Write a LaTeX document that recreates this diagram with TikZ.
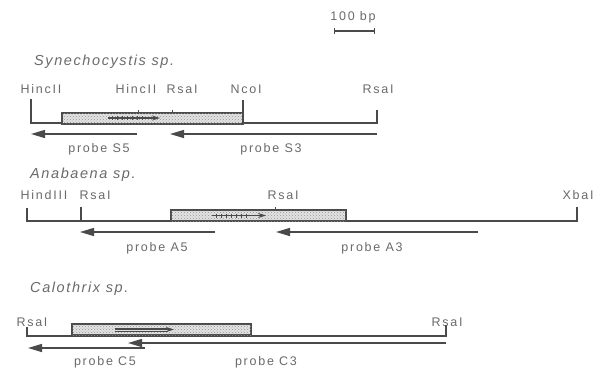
\documentclass[tikz,border=0pt]{standalone}
\usepackage{fontspec}
\setmainfont{Liberation Sans}
\newfontfamily\labfont[LetterSpace=14]{Liberation Sans}
\newfontfamily\titfont[LetterSpace=11]{Liberation Sans Italic}
\usetikzlibrary{arrows.meta,patterns}
\definecolor{ink}{HTML}{4A4A4A}
\definecolor{txt}{HTML}{6A6A6A}
\begin{document}
\begin{tikzpicture}[x=1pt,y=-1pt,
  lab/.style={inner sep=0pt,text=txt,font=\labfont\fontsize{12.5}{14}\selectfont},
  tit/.style={inner sep=0pt,anchor=west,text=txt,font=\titfont\fontsize{14.5}{16}\selectfont},
  dna/.style={draw=ink,line width=1.8pt},
  site/.style={draw=ink,line width=1.2pt},
  probe/.style={draw=ink,line width=1.4pt,-{Triangle[length=14pt,width=8pt]}},
  genebox/.style={draw=ink,line width=1.3pt,fill=gray!22,postaction={pattern=crosshatch dots,pattern color=gray!85}},
  gene/.style={draw=ink,line width=1.1pt,-{Stealth[length=8pt,width=5pt]}}]
\useasboundingbox (0,0) rectangle (602,370);

% scale bar
\node[lab] (bp) at (353,17) {100 bp};
\coordinate (sb1) at (334,31); \coordinate (sb2) at (374,31);
\draw[ink,line width=1.2pt] (sb1) -- (sb2);
\draw[ink,line width=1pt] ([yshift=-3]sb1) -- ([yshift=3]sb1) ([yshift=-3]sb2) -- ([yshift=3]sb2);

% ---------------- Synechocystis
\node[tit] (t1) at (34,62) {Synechocystis sp.};
\node[lab] (s1) at (41,89) {HincII};
\node[lab] (s2) at (136,89) {HincII};
\node[lab] (s3) at (182,89) {RsaI};
\node[lab] (s4) at (246,89) {NcoI};
\node[lab] (s5) at (378,89) {RsaI};
\coordinate (a0) at (31,99); \coordinate (a1) at (31,123);
\coordinate (a2) at (377,123); \coordinate (a3) at (377,110);
\draw[dna] (a0) -- (a1) -- (a2) -- (a3);
\draw[genebox] (62,113) rectangle (243,124);
\coordinate (an0) at (243,100); \coordinate (an1) at (243,123);
\draw[site] (an0) -- (an1);
\draw[ink,line width=0.7pt] (138,113) -- (138,110) (172,113) -- (172,110);
\coordinate (g1a) at (108,118); \coordinate (g1b) at (160,118);
\draw[gene] (g1a) -- (g1b);
\foreach \x in {112,117,...,142} \draw[ink,line width=0.6pt] (\x,116) -- (\x,120);
\coordinate (p1a) at (137,134); \coordinate (p1b) at (31,134);
\draw[probe] (p1a) -- (p1b);
\coordinate (p2a) at (377,134); \coordinate (p2b) at (170,134);
\draw[probe] (p2a) -- (p2b);
\node[lab] (ls5) at (99,149) {probe S5};
\node[lab] (ls3) at (271,149) {probe S3};

% ---------------- Anabaena
\node[tit] (t2) at (30,175) {Anabaena sp.};
\node[lab] (b1) at (44,195) {HindIII};
\node[lab] (b2) at (95,195) {RsaI};
\node[lab] (b3) at (283,195) {RsaI};
\node[lab] (b4) at (578,195) {XbaI};
\coordinate (c0) at (27,208); \coordinate (c1) at (27,221);
\coordinate (c2) at (577,221); \coordinate (c3) at (577,207);
\draw[dna] (c0) -- (c1) -- (c2) -- (c3);
\coordinate (cr0) at (81,207); \coordinate (cr1) at (81,221);
\draw[site] (cr0) -- (cr1);
\draw[genebox] (171,210) rectangle (346,221);
\draw[ink,line width=0.7pt] (275,210) -- (275,207);
\coordinate (g2a) at (212,215.5); \coordinate (g2b) at (266,215.5);
\draw[gene] (g2a) -- (g2b);
\foreach \x in {216,221,...,246} \draw[ink,line width=0.6pt] (\x,213.5) -- (\x,217.5);
\coordinate (p3a) at (215,232); \coordinate (p3b) at (80,232);
\draw[probe] (p3a) -- (p3b);
\coordinate (p4a) at (478,232); \coordinate (p4b) at (276,232);
\draw[probe] (p4a) -- (p4b);
\node[lab] (la5) at (157,248) {probe A5};
\node[lab] (la3) at (372,248) {probe A3};

% ---------------- Calothrix
\node[tit] (t3) at (30,289) {Calothrix sp.};
\node[lab] (d1) at (32,322) {RsaI};
\node[lab] (d2) at (447,322) {RsaI};
\coordinate (e0) at (27,327); \coordinate (e1) at (27,336);
\coordinate (e2) at (446,336); \coordinate (e3) at (446,325);
\draw[dna] (e0) -- (e1) -- (e2) -- (e3);
\draw[genebox] (72,324) rectangle (251,335);
\coordinate (g3a) at (115,329.5); \coordinate (g3b) at (174,329.5);
\draw[ink,line width=0.6pt] (115,328.2) -- (168,328.2) (115,330.8) -- (168,330.8);
\draw[gene] (g3a) -- (g3b);
\coordinate (p5a) at (145,348); \coordinate (p5b) at (28,348);
\draw[probe] (p5a) -- (p5b);
\coordinate (p6a) at (446,343); \coordinate (p6b) at (128,343);
\draw[probe] (p6a) -- (p6b);
\node[lab] (lc5) at (105,362) {probe C5};
\node[lab] (lc3) at (266,362) {probe C3};
\end{tikzpicture}
\end{document}
